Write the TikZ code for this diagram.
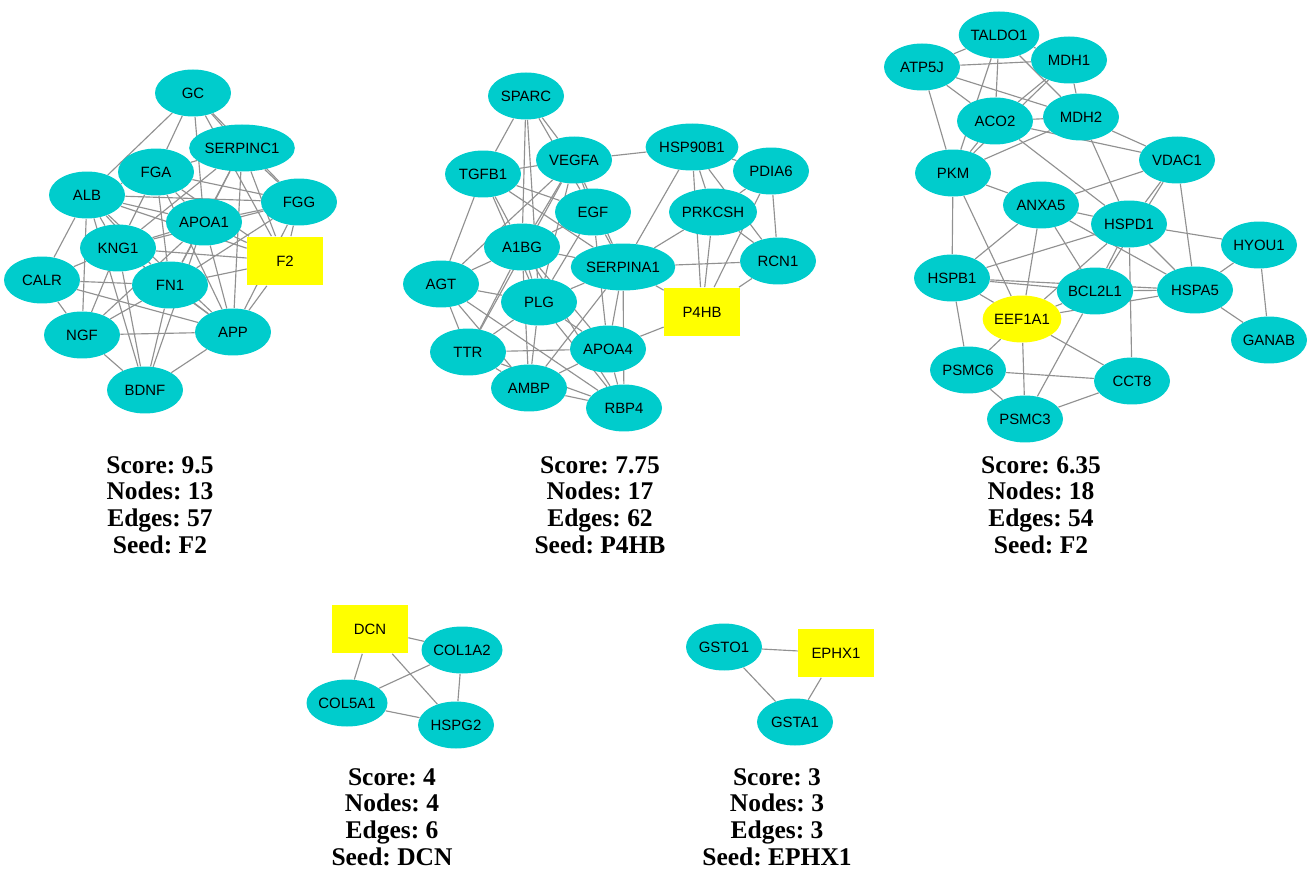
\documentclass[tikz,border=0pt]{standalone}
\usepackage{fontspec}
\setmainfont{Liberation Serif}
\newfontfamily\protfont{Liberation Sans}
\usepackage{xcolor}
\usepackage{tikz}
\usetikzlibrary{shapes.geometric, backgrounds}
\frenchspacing

\definecolor{protcyan}{RGB}{0,204,204}
\definecolor{seedyellow}{RGB}{255,255,0}
\definecolor{linkgray}{RGB}{145,145,145}

\begin{document}
\begin{tikzpicture}[x=0.02cm, y=-0.02cm,
    prot/.style={ellipse, fill=protcyan, minimum width=1.52cm, minimum height=0.94cm, inner sep=0pt, font=\protfont\fontsize{8.5}{10}\selectfont},
    seed/.style={rectangle, fill=seedyellow, minimum width=1.52cm, minimum height=0.98cm, inner sep=0pt, font=\protfont\fontsize{8.5}{10}\selectfont},
    seedov/.style={prot, fill=seedyellow},
    link/.style={draw=linkgray, line width=0.65pt},
    stats/.style={align=center, font=\bfseries\fontsize{14.5}{15.2}\selectfont, inner sep=0pt}]
    \useasboundingbox (0,0) rectangle (1307,874);

    % first cluster
    \node[prot] (GC) at (193,93) {GC};
    \node[prot] (SERPINC1) at (242,148) {SERPINC1};
    \node[prot] (FGA) at (156,172) {FGA};
    \node[prot] (ALB) at (87,195) {ALB};
    \node[prot] (FGG) at (299,202) {FGG};
    \node[prot] (APOA1) at (204,222) {APOA1};
    \node[prot] (KNG1) at (118,248) {KNG1};
    \node[seed] (F2) at (285,261) {F2};
    \node[prot] (CALR) at (42,280) {CALR};
    \node[prot] (FN1) at (170,285) {FN1};
    \node[prot] (NGF) at (82,335) {NGF};
    \node[prot] (APP) at (233,332) {APP};
    \node[prot] (BDNF) at (145,390) {BDNF};
    \begin{scope}[on background layer]
    \foreach \a/\b in {GC/ALB, GC/FGA, GC/APOA1, GC/SERPINC1, GC/FGG, GC/F2,
        SERPINC1/FGA, SERPINC1/KNG1, SERPINC1/APOA1, SERPINC1/FGG, SERPINC1/F2, SERPINC1/APP, SERPINC1/FN1,
        FGA/ALB, FGA/KNG1, FGA/FN1, FGA/APOA1, FGA/FGG, FGA/APP, FGA/F2,
        ALB/FGG, ALB/APOA1, ALB/KNG1, ALB/CALR, ALB/NGF, ALB/BDNF, ALB/FN1, ALB/APP, ALB/F2,
        FGG/APOA1, FGG/KNG1, FGG/FN1, FGG/F2, FGG/APP,
        APOA1/KNG1, APOA1/FN1, APOA1/APP, APOA1/F2, APOA1/NGF, APOA1/BDNF,
        KNG1/CALR, KNG1/FN1, KNG1/F2, KNG1/NGF, KNG1/BDNF, KNG1/APP,
        CALR/FN1, CALR/NGF, CALR/APP,
        FN1/NGF, FN1/APP, FN1/BDNF, FN1/F2,
        NGF/APP, NGF/BDNF, APP/BDNF, APP/F2}
        \draw[link] (\a) -- (\b);
    \end{scope}
    \node[stats] (stat1) at (160,505) {Score: 9.5\\Nodes: 13\\Edges: 57\\Seed: F2};

    % second cluster
    \node[prot] (SPARC) at (526,96) {SPARC};
    \node[prot] (VEGFA) at (574,160) {VEGFA};
    \node[prot] (HSP90B1) at (692,147) {HSP90B1};
    \node[prot] (TGFB1) at (483,174) {TGFB1};
    \node[prot] (PDIA6) at (771,171) {PDIA6};
    \node[prot] (EGF) at (593,212) {EGF};
    \node[prot] (PRKCSH) at (713,212) {PRKCSH};
    \node[prot] (A1BG) at (522,247) {A1BG};
    \node[prot] (SERPINA1) at (623,267) {SERPINA1};
    \node[prot] (RCN1) at (778,261) {RCN1};
    \node[prot] (AGT) at (441,284) {AGT};
    \node[prot] (PLG) at (539,302) {PLG};
    \node[seed] (P4HB) at (702,312) {P4HB};
    \node[prot] (TTR) at (468,352) {TTR};
    \node[prot] (APOA4) at (608,349) {APOA4};
    \node[prot] (AMBP) at (529,388) {AMBP};
    \node[prot] (RBP4) at (624,408) {RBP4};
    \begin{scope}[on background layer]
    \foreach \a/\b in {SPARC/TGFB1, SPARC/VEGFA, SPARC/EGF, SPARC/A1BG, SPARC/PLG,
        TGFB1/VEGFA, TGFB1/EGF, TGFB1/A1BG, TGFB1/PLG, TGFB1/AGT, TGFB1/SERPINA1,
        VEGFA/HSP90B1, VEGFA/EGF, VEGFA/A1BG, VEGFA/AGT, VEGFA/PLG, VEGFA/TTR, VEGFA/SERPINA1,
        EGF/A1BG, EGF/PLG, EGF/SERPINA1, EGF/APOA4,
        HSP90B1/PDIA6, HSP90B1/PRKCSH, HSP90B1/SERPINA1, HSP90B1/P4HB, HSP90B1/RCN1,
        PDIA6/PRKCSH, PDIA6/RCN1, PDIA6/P4HB,
        PRKCSH/SERPINA1, PRKCSH/P4HB, PRKCSH/RCN1,
        A1BG/SERPINA1, A1BG/AGT, A1BG/PLG, A1BG/TTR, A1BG/AMBP, A1BG/APOA4, A1BG/RBP4,
        SERPINA1/RCN1, SERPINA1/P4HB, SERPINA1/PLG, SERPINA1/APOA4, SERPINA1/RBP4, SERPINA1/AMBP,
        RCN1/P4HB,
        AGT/PLG, AGT/TTR, AGT/AMBP, AGT/RBP4,
        PLG/TTR, PLG/APOA4, PLG/AMBP, PLG/RBP4,
        TTR/APOA4, TTR/AMBP, TTR/RBP4,
        APOA4/AMBP, APOA4/RBP4, APOA4/P4HB, AMBP/RBP4}
        \draw[link] (\a) -- (\b);
    \end{scope}
    \node[stats] (stat2) at (600,505) {Score: 7.75\\Nodes: 17\\Edges: 62\\Seed: P4HB};

    % third cluster
    \node[prot] (TALDO1) at (999,35) {TALDO1};
    \node[prot] (ATP5J) at (922,67) {ATP5J};
    \node[prot] (MDH1) at (1069,60) {MDH1};
    \node[prot] (ACO2) at (995,121) {ACO2};
    \node[prot] (MDH2) at (1081,117) {MDH2};
    \node[prot] (VDAC1) at (1177,160) {VDAC1};
    \node[prot] (PKM) at (953,173) {PKM};
    \node[prot] (ANXA5) at (1041,205) {ANXA5};
    \node[prot] (HSPD1) at (1129,224) {HSPD1};
    \node[prot] (HYOU1) at (1259,245) {HYOU1};
    \node[prot] (HSPB1) at (952,278) {HSPB1};
    \node[prot] (BCL2L1) at (1095,291) {BCL2L1};
    \node[prot] (HSPA5) at (1195,290) {HSPA5};
    \node[seedov] (EEF1A1) at (1022,319) {EEF1A1};
    \node[prot] (GANAB) at (1269,340) {GANAB};
    \node[prot] (PSMC6) at (968,370) {PSMC6};
    \node[prot] (CCT8) at (1132,381) {CCT8};
    \node[prot] (PSMC3) at (1025,419) {PSMC3};
    \begin{scope}[on background layer]
    \foreach \a/\b in {ATP5J/TALDO1, ATP5J/MDH1, ATP5J/ACO2, ATP5J/MDH2, ATP5J/PKM,
        TALDO1/MDH1, TALDO1/ACO2, TALDO1/MDH2, TALDO1/PKM,
        MDH1/ACO2, MDH1/MDH2, MDH1/PKM,
        ACO2/MDH2, ACO2/PKM, ACO2/VDAC1, ACO2/HSPD1,
        MDH2/PKM, MDH2/VDAC1, MDH2/HSPD1,
        PKM/ANXA5, PKM/HSPB1, PKM/EEF1A1,
        VDAC1/ANXA5, VDAC1/HSPD1, VDAC1/HSPA5, VDAC1/BCL2L1,
        ANXA5/HSPD1, ANXA5/HSPB1, ANXA5/EEF1A1, ANXA5/BCL2L1, ANXA5/HSPA5,
        HSPD1/HYOU1, HSPD1/HSPB1, HSPD1/BCL2L1, HSPD1/HSPA5, HSPD1/EEF1A1, HSPD1/CCT8,
        HYOU1/HSPA5, HYOU1/GANAB, HSPA5/GANAB, HSPA5/BCL2L1, HSPA5/EEF1A1,
        HSPB1/BCL2L1, HSPB1/HSPA5, HSPB1/EEF1A1, HSPB1/PSMC6,
        BCL2L1/EEF1A1, BCL2L1/PSMC3,
        EEF1A1/PSMC6, EEF1A1/PSMC3, EEF1A1/CCT8,
        PSMC6/CCT8, PSMC6/PSMC3, PSMC3/CCT8}
        \draw[link] (\a) -- (\b);
    \end{scope}
    \node[stats] (stat3) at (1041,505) {Score: 6.35\\Nodes: 18\\Edges: 54\\Seed: F2};

    % fourth cluster
    \node[seed] (DCN) at (370,629) {DCN};
    \node[prot] (COL1A2) at (462,650) {COL1A2};
    \node[prot] (COL5A1) at (347,703) {COL5A1};
    \node[prot] (HSPG2) at (456,725) {HSPG2};
    \begin{scope}[on background layer]
    \foreach \a/\b in {DCN/COL1A2, DCN/COL5A1, DCN/HSPG2, COL1A2/COL5A1, COL1A2/HSPG2, COL5A1/HSPG2}
        \draw[link] (\a) -- (\b);
    \end{scope}
    \node[stats] (stat4) at (392,817) {Score: 4\\Nodes: 4\\Edges: 6\\Seed: DCN};

    % fifth cluster
    \node[prot] (GSTO1) at (724,647) {GSTO1};
    \node[seed] (EPHX1) at (836,653) {EPHX1};
    \node[prot] (GSTA1) at (795,722) {GSTA1};
    \begin{scope}[on background layer]
    \foreach \a/\b in {GSTO1/EPHX1, GSTO1/GSTA1, EPHX1/GSTA1}
        \draw[link] (\a) -- (\b);
    \end{scope}
    \node[stats] (stat5) at (777,817) {Score: 3\\Nodes: 3\\Edges: 3\\Seed: EPHX1};
\end{tikzpicture}
\end{document}
